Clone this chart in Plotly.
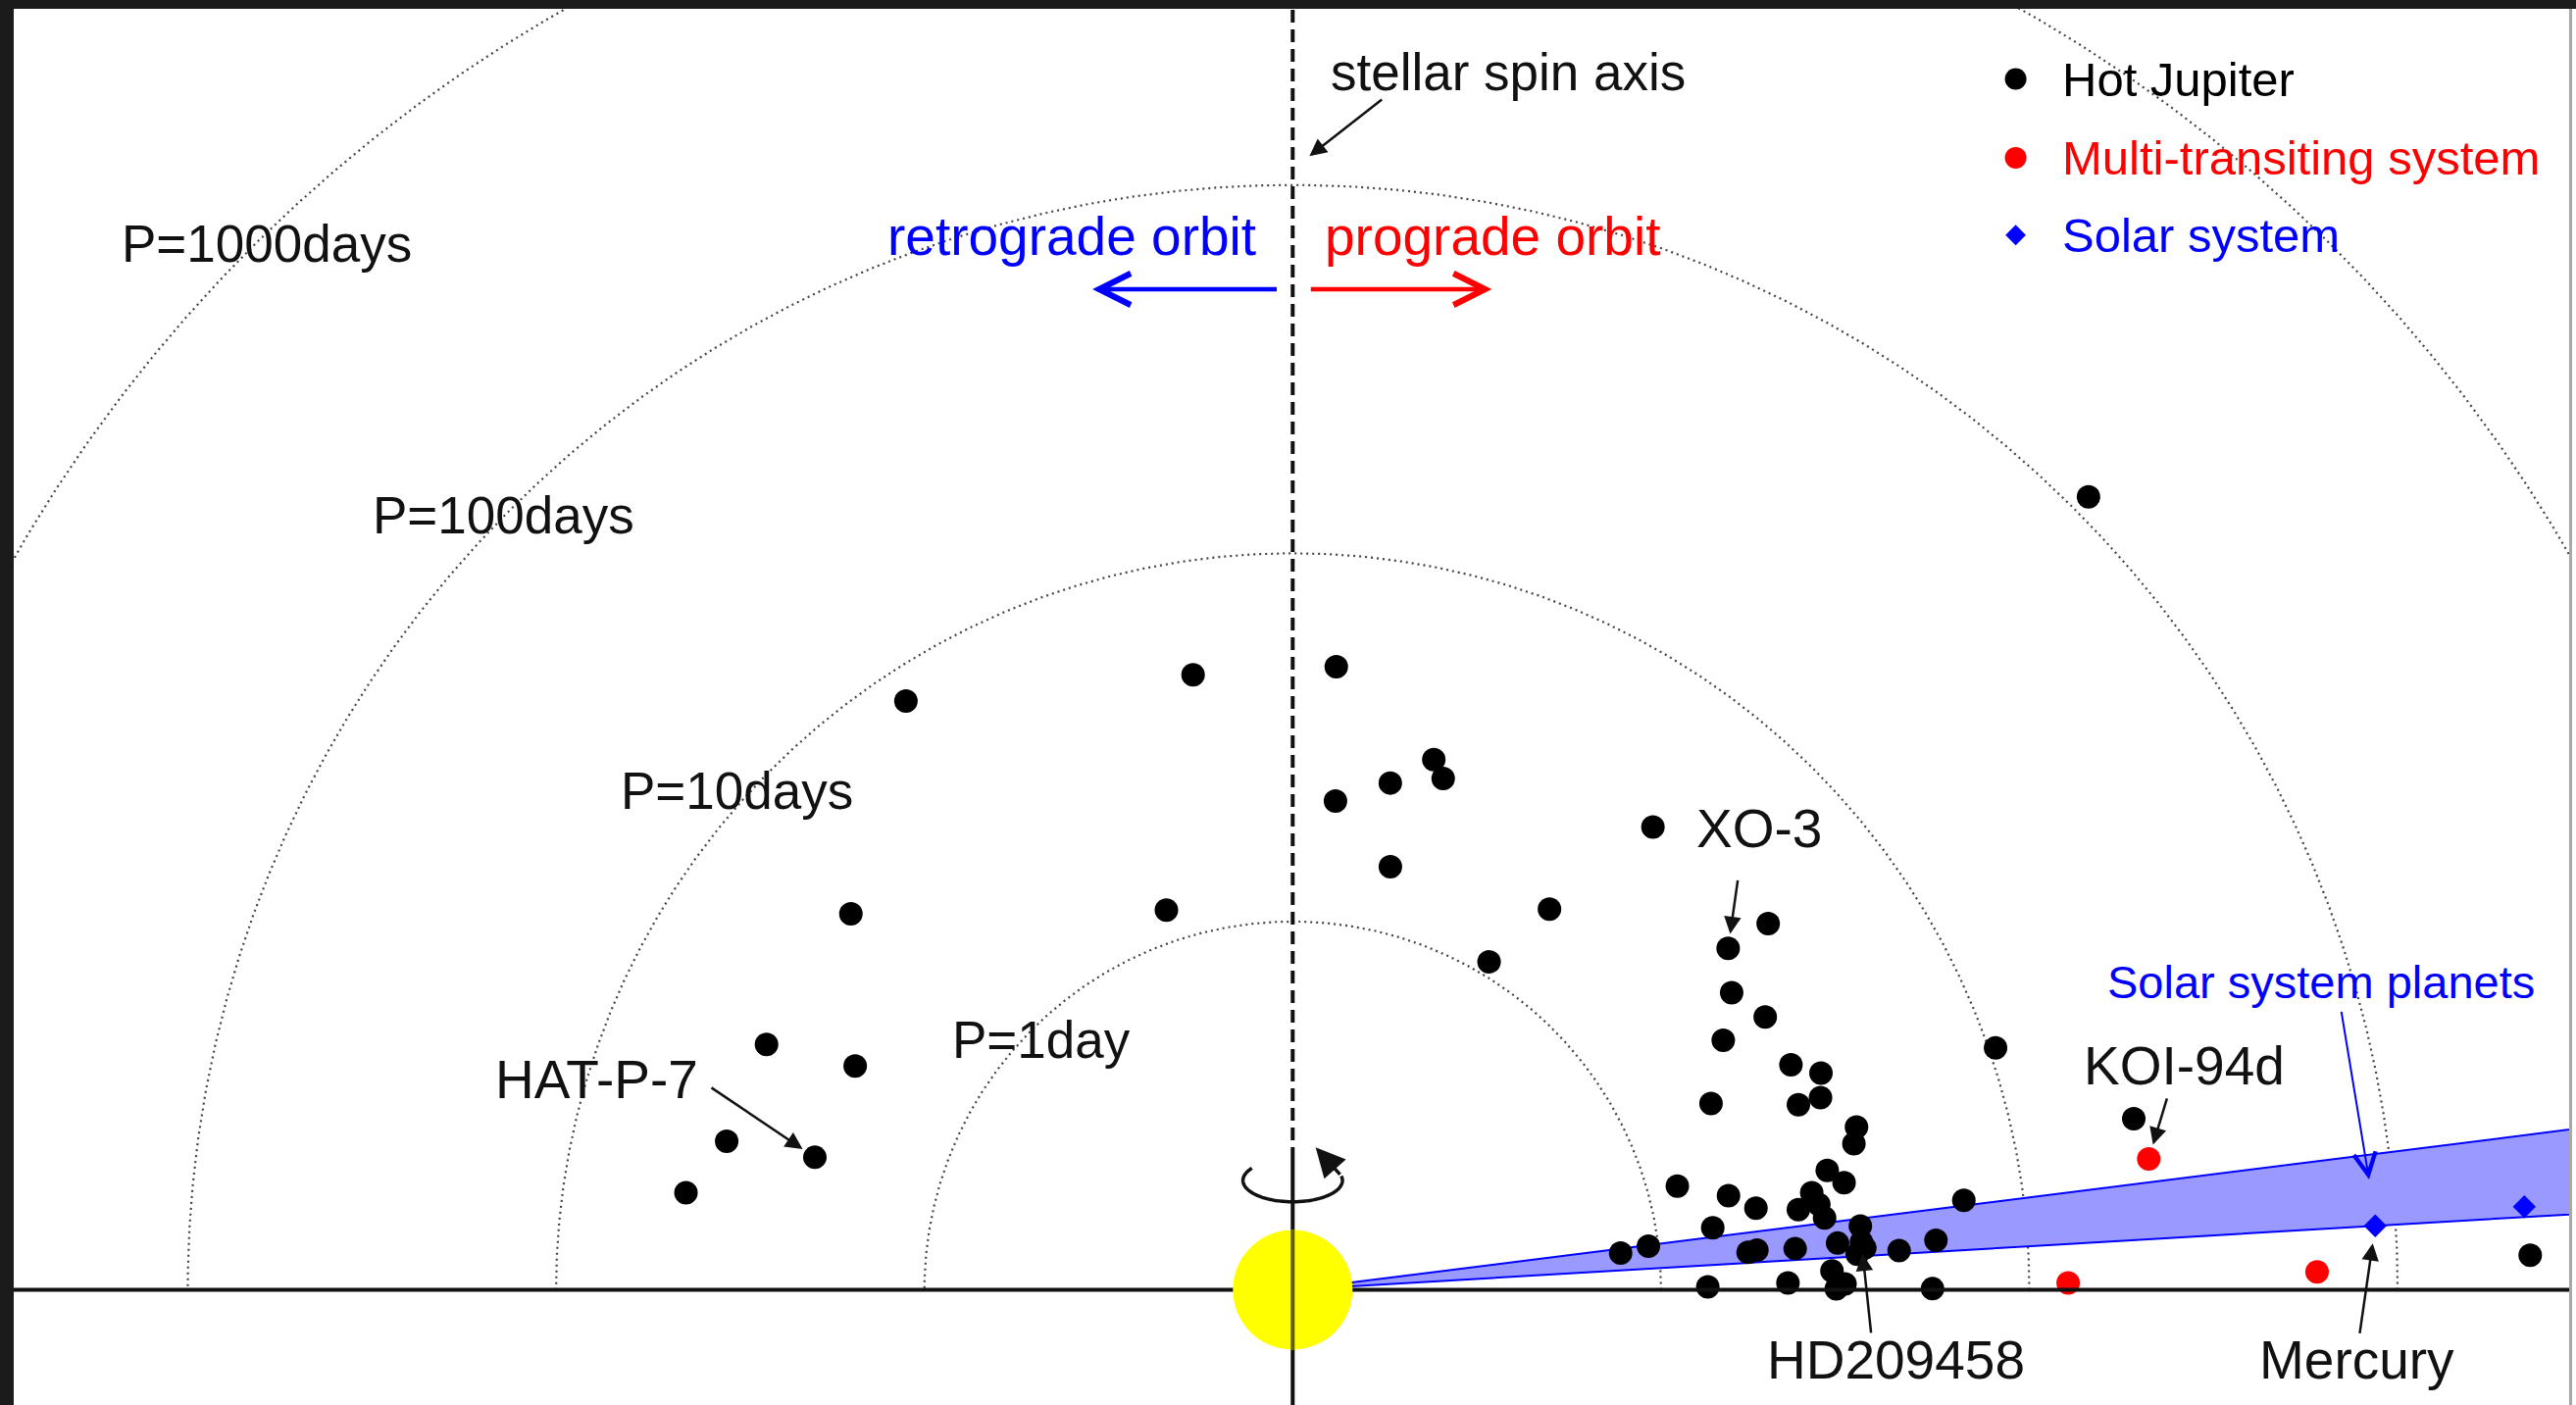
import numpy as np
import plotly.graph_objects as go

# ---------------- data ----------------
# Hot Jupiters: orbital period [days] and projected spin-orbit angle lambda [deg]
# first three entries are the labelled ones: HAT-P-7, XO-3, HD209458
hj_period = [2.22, 3.18, 3.545,
             8.18, 4.92, 3.76, 1.22, 3.77, 2.16, 3.88, 4.66,
             4.97, 3.09, 2.80, 2.52, 2.15, 3.91, 1.51, 1.765, 1.092,
             4.26, 2.75, 3.03, 2.245, 3.05, 3.55, 10.43, 112.3, 21.4,
             1.751, 2.898, 3.35, 3.92, 3.755, 3.07, 3.35, 1.207, 1.624, 1.893,
             2.715, 2.455, 2.80, 2.866, 6.893, 1.422, 3.556, 0.787, 0.940, 1.740,
             1.841, 2.338, 3.054, 3.434, 3.611, 4.466, 5.646, 2.918, 3.16, 2.992,
             1.34, 2.212, 5.46, 229.8]
hj_lambda = [164.5, 38.1, 4.8,
             123.3, 99.2, 139.6, 108.4, 155.0, 152.9, 165.3, 170.9,
             86.0, 75.1, 73.6, 79.1, 85.0, 52.1, 77.0, 56.0, 59.1,
             37.6, 34.1, 30.0, 30.1, 24.3, 22.3, 19.0, 44.9, 11.5,
             24.0, 20.1, 20.0, 16.1, 14.6, 12.6, 11.0, 15.1, 12.2, 10.0,
             10.6, 9.0, 9.2, 7.7, 7.6, 8.4, 6.4, 6.4, 7.0, 4.7,
             4.9, 4.7, 4.9, 3.6, 4.2, 3.7, 4.4, 2.0, 0.6, 0.1,
             0.4, 0.8, 0.1, 1.6]

# Multi-transiting systems (first = KOI-94d)
multi_period = [22.46, 12.75, 60.5]
multi_lambda = [8.7, 0.5, 1.0]

# Solar system planets: period [days], inclination to the solar equator [deg]
solar_names = ["Mercury", "Venus", "Earth", "Mars", "Jupiter", "Saturn", "Uranus", "Neptune"]
solar_period = [87.97, 224.70, 365.26, 686.98, 4332.6, 10759.0, 30687.0, 60190.0]
solar_incl = [3.38, 3.86, 7.155, 5.65, 6.09, 5.51, 6.48, 6.43]

# constant-period circles
circle_periods = [1, 10, 100, 1000]
circle_labels = ["P=1day", "P=10days", "P=100days", "P=1000days"]

legend_names = ["Hot Jupiter", "Multi-transiting system", "Solar system"]

# ---------------- helpers ----------------
def radius(p):
    # log-period radius, P = 0.1 day sits on the star
    return np.log10(np.asarray(p, dtype=float)) + 1.0


def to_xy(p, lam):
    r = radius(p)
    t = np.radians(np.asarray(lam, dtype=float))
    return r * np.cos(t), r * np.sin(t)


FONT = "Liberation Sans, Arial, Helvetica, sans-serif"
BLACK = "#111111"
RED = "#ff0000"
BLUE = "#0000ff"
DARK = "#1b1b1b"

W, H = 2627, 1433
ML, MR, MT, MB = 14, 7, 9, 0
XR = [-3.4726, 3.4657]
YR = [-0.3128, 3.4784]

fig = go.Figure()

# dotted constant-period circles
theta = np.linspace(0, 180, 721)
for p in circle_periods:
    cx, cy = to_xy(np.full_like(theta, p), theta)
    fig.add_trace(go.Scatter(x=cx, y=cy, mode="lines",
                             line=dict(color="#444444", width=2.2, dash="2px,4px"),
                             hoverinfo="skip", showlegend=False))

# solar-system inclination wedge
r_far = 6.0
i_lo, i_hi = np.radians(min(solar_incl)), np.radians(max(solar_incl))
fig.add_trace(go.Scatter(
    x=[0, r_far * np.cos(i_lo), r_far * np.cos(i_hi), 0],
    y=[0, r_far * np.sin(i_lo), r_far * np.sin(i_hi), 0],
    mode="lines", fill="toself", fillcolor="rgb(153,153,255)",
    line=dict(color=BLUE, width=2), hoverinfo="skip", showlegend=False))

# data points
hx, hy = to_xy(hj_period, hj_lambda)
fig.add_trace(go.Scatter(x=hx, y=hy, mode="markers", name=legend_names[0],
                         marker=dict(color="black", size=24), showlegend=False))
mx, my = to_xy(multi_period, multi_lambda)
fig.add_trace(go.Scatter(x=mx, y=my, mode="markers", name=legend_names[1],
                         marker=dict(color=RED, size=24), showlegend=False))
sx, sy = to_xy(solar_period, solar_incl)
fig.add_trace(go.Scatter(x=sx, y=sy, mode="markers", name=legend_names[2], text=solar_names,
                         marker=dict(color=BLUE, size=18, symbol="diamond"), showlegend=False))

# hand-made legend (top right)
leg_mx, leg_tx = 1.963, 2.084
leg_y = [3.288, 3.074, 2.864]
leg_col = ["black", RED, BLUE]
leg_sym = ["circle", "circle", "diamond"]
leg_size = [22, 22, 16]
for name, yy, c, s, sz in zip(legend_names, leg_y, leg_col, leg_sym, leg_size):
    fig.add_trace(go.Scatter(x=[leg_mx], y=[yy], mode="markers", hoverinfo="skip",
                             marker=dict(color=c, size=sz, symbol=s), showlegend=False))

annotations = []
for name, yy, c in zip(legend_names, leg_y, leg_col):
    annotations.append(dict(x=leg_tx, y=yy, text=name, showarrow=False, xanchor="left",
                            yanchor="middle", font=dict(family=FONT, size=49, color=c)))

# circle labels
circle_label_pos = {"P=1day": (-0.682, 0.679), "P=10days": (-1.508, 1.3565),
                    "P=100days": (-2.143, 2.102), "P=1000days": (-2.785, 2.842)}
for lab in circle_labels:
    x0, y0 = circle_label_pos[lab]
    annotations.append(dict(x=x0, y=y0, text=lab, showarrow=False, xanchor="center",
                            yanchor="middle", font=dict(family=FONT, size=53, color=BLACK)))

# other texts
texts = [
    ("HAT-P-7", -1.891, 0.572, 55, BLACK),
    ("XO-3", 1.2665, 1.254, 55, BLACK),
    ("KOI-94d", 2.422, 0.608, 55, BLACK),
    ("HD209458", 1.6366, -0.190, 55, BLACK),
    ("Mercury", 2.888, -0.190, 55, BLACK),
    ("Solar system planets", 2.791, 0.835, 47, BLUE),
    ("retrograde orbit", -0.601, 2.860, 55, BLUE),
    ("prograde orbit", 0.542, 2.860, 55, RED),
    ("stellar spin axis", 0.585, 3.306, 53, BLACK),
]
for t, x0, y0, fs, c in texts:
    annotations.append(dict(x=x0, y=y0, text=t, showarrow=False, xanchor="center",
                            yanchor="middle", font=dict(family=FONT, size=fs, color=c)))

# arrows pointing at labelled planets (tail offset in pixels)
pointers = [
    (hx[0], hy[0], -107, -72, 15),   # HAT-P-7
    (hx[1], hy[1], 10, -71, 15),     # XO-3
    (hx[2], hy[2], 10, 94, 12),      # HD209458
    (mx[0], my[0], 19, -63, 15),     # KOI-94d
    (sx[0], sy[0], -16, 111, 18),    # Mercury
]
for x0, y0, ax, ay, so in pointers:
    annotations.append(dict(x=x0, y=y0, ax=ax, ay=ay, text="", showarrow=True,
                            arrowhead=2, arrowwidth=2.5, arrowsize=1.4, standoff=so,
                            arrowcolor=BLACK))

# data-space arrows
annotations += [
    dict(x=0.0453, y=3.0785, ax=0.246, ay=3.235, axref="x", ayref="y", text="",
         showarrow=True, arrowhead=2, arrowwidth=2.5, arrowsize=1.4, arrowcolor=BLACK),
    dict(x=-0.5437, y=2.717, ax=-0.0394, ay=2.717, axref="x", ayref="y", text="",
         showarrow=True, arrowhead=5, arrowwidth=4.5, arrowsize=1.4, arrowcolor=BLUE),
    dict(x=0.5405, y=2.717, ax=0.0453, ay=2.717, axref="x", ayref="y", text="",
         showarrow=True, arrowhead=5, arrowwidth=4.5, arrowsize=1.4, arrowcolor=RED),
    dict(x=2.9225, y=0.2995, ax=2.8466, ay=0.759, axref="x", ayref="y", text="",
         showarrow=True, arrowhead=5, arrowwidth=2, arrowsize=2.2, arrowcolor=BLUE),
]

# rotation symbol above the star
rc_y, ra, rb = 0.297, 0.135, 0.058
tt = np.radians(np.linspace(145, 372, 120))
ex, ey = ra * np.cos(tt), rc_y + rb * np.sin(tt)
rot_path = "M " + " L ".join(f"{a:.4f},{b:.4f}" for a, b in zip(ex, ey))
annotations.append(dict(x=0.0623, y=0.3869, ax=float(ex[-1]), ay=float(ey[-1]),
                        axref="x", ayref="y", text="", showarrow=True, arrowhead=2,
                        arrowwidth=3.5, arrowsize=1.7, arrowcolor=BLACK))

star_r = 0.1624
shapes = [
    # horizontal (equatorial) line
    dict(type="line", xref="x", yref="y", x0=XR[0], x1=XR[1], y0=0, y1=0,
         line=dict(color=BLACK, width=4)),
    # dashed spin axis
    dict(type="line", xref="x", yref="y", x0=0, x1=0, y0=0.353, y1=YR[1],
         line=dict(color=BLACK, width=4, dash="13px,7px")),
    # solid axis through the star
    dict(type="line", xref="x", yref="y", x0=0, x1=0, y0=YR[0], y1=0.353,
         line=dict(color=BLACK, width=4)),
    # star
    dict(type="circle", xref="x", yref="y", x0=-star_r, x1=star_r, y0=-star_r, y1=star_r,
         fillcolor="#ffff00", line=dict(width=0)),
    dict(type="line", xref="x", yref="y", x0=0, x1=0, y0=-star_r, y1=star_r,
         line=dict(color="#5f5f00", width=4)),
    # rotation arc
    dict(type="path", xref="x", yref="y", path=rot_path, line=dict(color=BLACK, width=3.5)),
]

# dark frame (screen-shot border)
pw = W - ML - MR
ph = H - MT - MB
shapes += [
    dict(type="rect", xref="paper", yref="paper", x0=1, x1=1 + MR / pw, y0=0, y1=1,
         fillcolor="white", line=dict(width=0), layer="above"),
    dict(type="rect", xref="paper", yref="paper", x0=1, x1=1 + 3 / pw, y0=0, y1=1,
         fillcolor="#a8a8a8", line=dict(width=0), layer="above"),
    dict(type="rect", xref="paper", yref="paper", x0=-ML / pw, x1=1 + MR / pw, y0=1,
         y1=1 + MT / ph, fillcolor=DARK, line=dict(width=0), layer="above"),
]

fig.update_layout(
    width=W, height=H,
    margin=dict(l=ML, r=MR, t=MT, b=MB, pad=0),
    paper_bgcolor=DARK, plot_bgcolor="white",
    showlegend=False,
    xaxis=dict(range=XR, visible=False, showgrid=False, zeroline=False, fixedrange=True),
    yaxis=dict(range=YR, visible=False, showgrid=False, zeroline=False, fixedrange=True),
    annotations=annotations, shapes=shapes,
    font=dict(family=FONT),
)

fig.write_html("out.html", config={"displayModeBar": False},
               post_script="document.body.style.margin='0';document.body.style.overflow='hidden';")
